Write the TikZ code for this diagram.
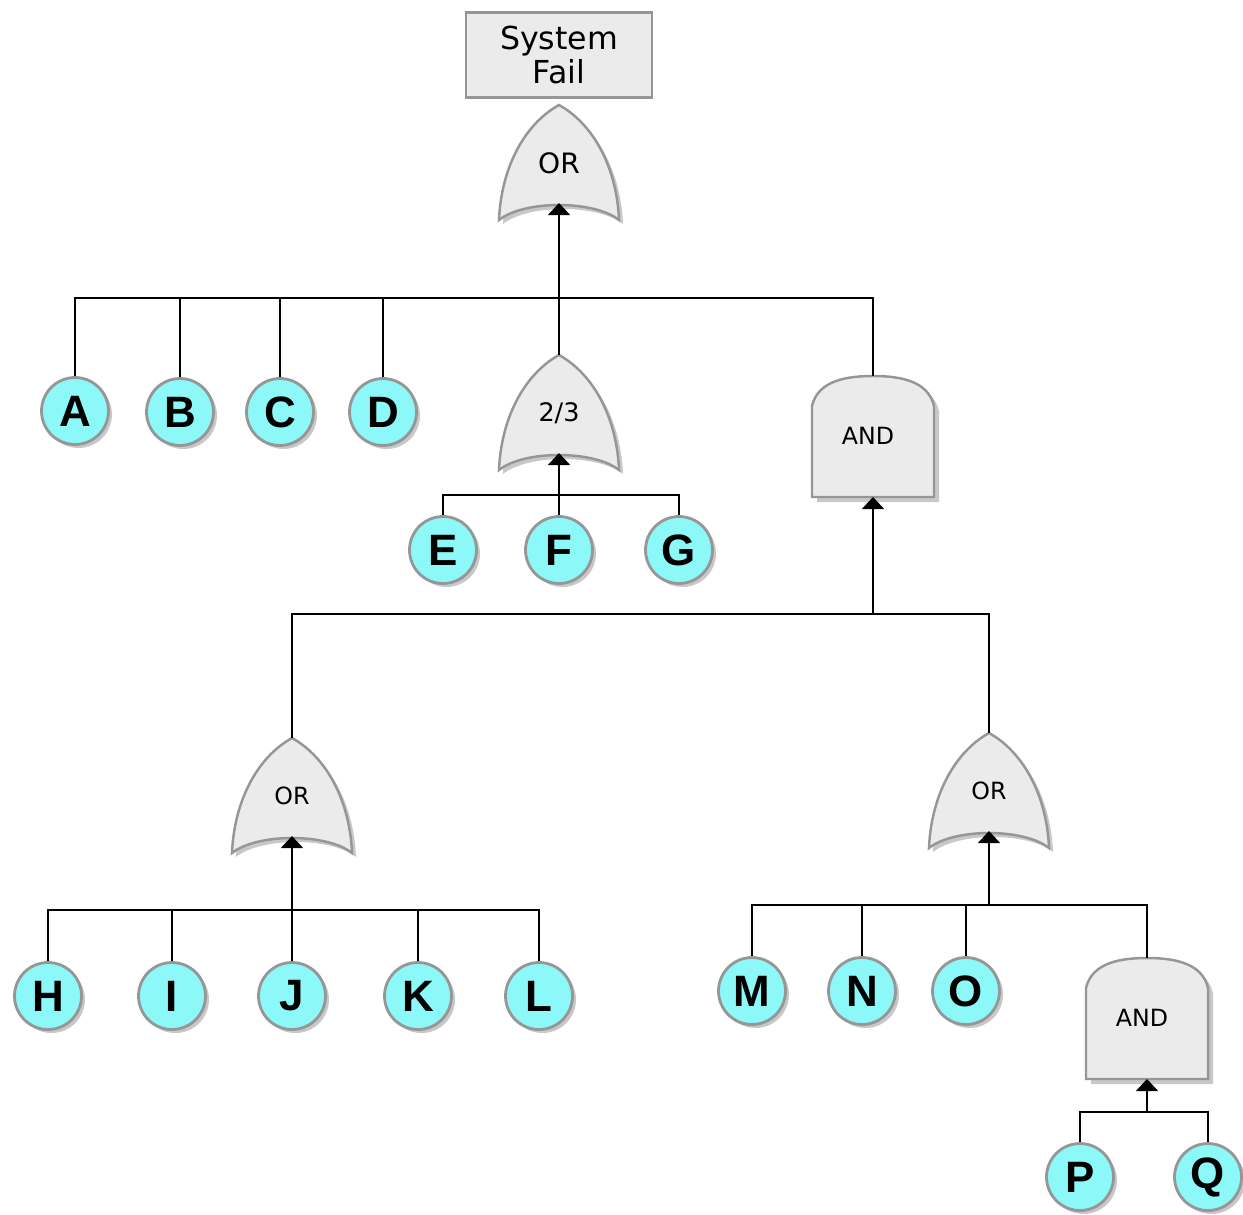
\documentclass[tikz,border=0pt]{standalone}
\usepackage{fontspec}
\setmainfont{DejaVu Sans}
\newfontfamily\eventfont{Liberation Sans}
\usepackage{tikz}
\usetikzlibrary{arrows.meta}
\usetikzlibrary{shadows}

\definecolor{evcyan}{RGB}{140,248,248}
\definecolor{gatefill}{RGB}{235,235,235}
\definecolor{gateline}{RGB}{150,150,150}
\definecolor{gateshade}{RGB}{200,200,200}

\tikzset{
    event/.style={shape=circle, draw=gateline, line width=1.6pt, fill=evcyan,
        minimum size=1.34cm, inner sep=0pt,
        font=\eventfont\bfseries\fontsize{25}{25}\selectfont,
        drop shadow={shadow xshift=0.07cm, shadow yshift=-0.07cm, fill=gateshade, opacity=1}},
    topbox/.style={shape=rectangle, draw=gateline, line width=1.4pt, fill=gatefill,
        minimum width=3.72cm, minimum height=1.7cm, align=center,
        font=\fontsize{18}{19}\selectfont},
    gatebody/.style={draw=gateline, line width=1.4pt, fill=gatefill},
    gateshadow/.style={fill=gateshade},
    gatelabel/.style={inner sep=0pt},
    wire/.style={line width=0.9pt},
    inarrow/.style={wire, -{Triangle[width=0.44cm, length=0.24cm]}},
    orgate/.pic={
        \fill[gateshadow, shift={(4,4)}] (0,0) .. controls (-36,20) and (-58,65) .. (-60,115)
            .. controls (-35,95) and (35,95) .. (60,115) .. controls (58,65) and (36,20) .. (0,0) -- cycle;
        \filldraw[gatebody] (0,0) .. controls (-36,20) and (-58,65) .. (-60,115)
            .. controls (-35,95) and (35,95) .. (60,115) .. controls (58,65) and (36,20) .. (0,0) -- cycle;
        \coordinate (-top) at (0,0);
        \coordinate (-in) at (0,98);
        \node[gatelabel] (-txt) at (0,58) {#1};
    },
    andgate/.pic={
        \fill[gateshadow, shift={(5,5)}] (-61,121) -- (-61,30) .. controls (-55,4) and (-25,0) .. (0,0)
            .. controls (25,0) and (55,4) .. (61,30) -- (61,121) -- cycle;
        \filldraw[gatebody] (-61,121) -- (-61,30) .. controls (-55,4) and (-25,0) .. (0,0)
            .. controls (25,0) and (55,4) .. (61,30) -- (61,121) -- cycle;
        \coordinate (-top) at (0,0);
        \coordinate (-in) at (0,121);
        \node[gatelabel] (-txt) at (-5,60) {#1};
    }
}

\begin{document}
\begin{tikzpicture}[x=0.02cm, y=-0.02cm, font=\fontsize{13.5}{15}\selectfont]
    \useasboundingbox (0,0) rectangle (1243,1214);

    % top event and gates
    \node[topbox] (sys) at (559,55) {System\\Fail};
    \pic[font=\fontsize{16}{18}\selectfont] (top) at (559,105) {orgate=OR};
    \pic[font=\fontsize{14.5}{16}\selectfont] (vote) at (559,355) {orgate=2/3};
    \pic (andA) at (873,376) {andgate=AND};
    \pic (orL) at (292,738) {orgate=OR};
    \pic (orR) at (989,733) {orgate=OR};
    \pic (andB) at (1147,958) {andgate=AND};

    % basic events
    \node[event] (A) at (75,411) {A};
    \node[event] (B) at (180,412) {B};
    \node[event] (C) at (280,412) {C};
    \node[event] (D) at (383,412) {D};
    \node[event] (E) at (443,550) {E};
    \node[event] (F) at (559,550) {F};
    \node[event] (G) at (679,550) {G};
    \node[event] (H) at (48,996) {H};
    \node[event] (I) at (172,996) {I};
    \node[event] (J) at (292,996) {J};
    \node[event] (K) at (418,996) {K};
    \node[event] (L) at (539,996) {L};
    \node[event] (M) at (752,991) {M};
    \node[event] (N) at (862,991) {N};
    \node[event] (O) at (966,991) {O};
    \node[event] (P) at (1080,1177) {P};
    \node[event] (Q) at (1208,1177) {Q};

    % junctions
    \coordinate (j1) at (559,298);
    \coordinate (j2) at (559,495);
    \coordinate (j3) at (873,614);
    \coordinate (j4) at (292,910);
    \coordinate (j5) at (989,905);
    \coordinate (j6) at (1147,1112);

    % connectors
    \draw[inarrow] (j1) -- (top-in);
    \draw[wire] (A) |- (j1) -| (andA-top);
    \draw[wire] (B) |- (j1);
    \draw[wire] (C) |- (j1);
    \draw[wire] (D) |- (j1);
    \draw[wire] (vote-top) -- (j1);

    \draw[inarrow] (F) -- (vote-in);
    \draw[wire] (E) |- (j2) -| (G);

    \draw[inarrow] (j3) -- (andA-in);
    \draw[wire] (orL-top) |- (j3) -| (orR-top);

    \draw[inarrow] (J) -- (orL-in);
    \draw[wire] (H) |- (j4) -| (L);
    \draw[wire] (I) |- (j4);
    \draw[wire] (K) |- (j4);

    \draw[inarrow] (j5) -- (orR-in);
    \draw[wire] (M) |- (j5) -| (andB-top);
    \draw[wire] (N) |- (j5);
    \draw[wire] (O) |- (j5);

    \draw[inarrow] (j6) -- (andB-in);
    \draw[wire] (P) |- (j6) -| (Q);

\end{tikzpicture}
\end{document}
